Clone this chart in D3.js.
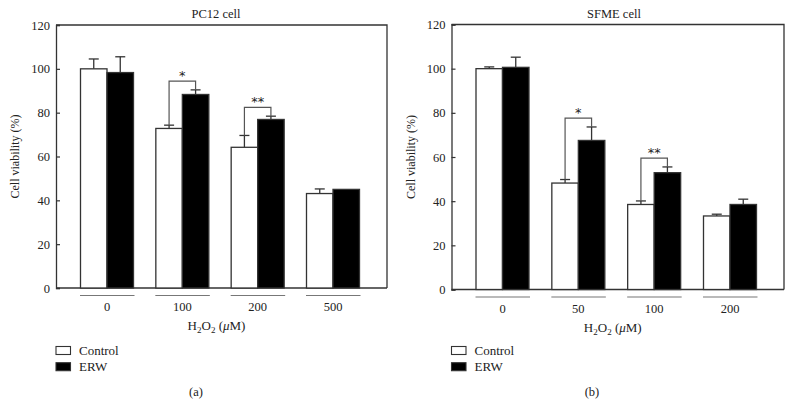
<!DOCTYPE html>
<html><head><meta charset="utf-8">
<script src="https://cdn.jsdelivr.net/npm/d3@7"></script>
<style>body{margin:0;background:#fff}svg{display:block}text{font-family:"Liberation Serif","DejaVu Serif",serif;fill:#222}</style>
</head><body><svg id="c" width="793" height="405"></svg>
<script>
const seriesNames = ["Control", "ERW"];
const yTicks = [0, 20, 40, 60, 80, 100, 120];

const pcCategories = ["0", "100", "200", "500"];
const pcControl = [100, 72.8, 64.2, 43.1];
const pcControlErr = [4.5, 1.5, 5.4, 2.1];
const pcERW = [98.3, 88.3, 76.9, 45];
const pcERWErr = [7.2, 2.1, 1.5, 0];
const pcSig = [null, "*", "**", null];

const sfCategories = ["0", "50", "100", "200"];
const sfControl = [100, 48.2, 38.5, 33.3];
const sfControlErr = [0.8, 1.6, 1.6, 0.8];
const sfERW = [100.6, 67.5, 52.9, 38.5];
const sfERWErr = [4.6, 6.1, 2.6, 2.4];
const sfSig = [null, "*", "**", null];

const svg = d3.select("#c");
const ink = "#333";

function panel(o) {
  const g = svg.append("g");
  const x = d3.scalePoint().domain(o.cats).range([o.left + 51, o.right - 54]);
  const y = d3.scaleLinear().domain([0, 120]).range([o.bottom, o.top]);
  const bw = 26.5;

  g.append("path").attr("d", `M${o.left},${o.top}H${o.right}V${o.bottom}`)
    .attr("fill", "none").attr("stroke", ink).attr("stroke-width", 1.3);

  const ya = g.append("g").attr("transform", `translate(${o.left},0)`)
    .call(d3.axisLeft(y).tickValues(yTicks).tickSize(-4).tickPadding(6));
  ya.select(".domain").attr("stroke", ink).attr("stroke-width", 1.3);
  ya.selectAll(".tick line").attr("stroke", ink).attr("stroke-width", 1.2);
  ya.selectAll("text").style("font-size", "12.5px").attr("fill", "#222").style("font-family", '"Liberation Serif",serif');

  g.append("line").attr("x1", o.left).attr("x2", o.right).attr("y1", o.bottom).attr("y2", o.bottom)
    .attr("stroke", ink).attr("stroke-width", 1.3);

  const data = o.cats.map((c, i) => ({c, i}));
  const rows = [];
  data.forEach(d => {
    rows.push({c: d.c, s: 0, v: o.ctrl[d.i], e: o.ctrlErr[d.i]});
    rows.push({c: d.c, s: 1, v: o.erw[d.i], e: o.erwErr[d.i]});
  });
  const bx = r => x(r.c) + (r.s === 0 ? -bw : 0);

  rows.filter(r => r.e > 0).forEach(r => {
    const cx = bx(r) + bw / 2;
    g.append("line").attr("x1", cx).attr("x2", cx).attr("y1", y(r.v)).attr("y2", y(r.v + r.e))
      .attr("stroke", ink).attr("stroke-width", 1.3);
    g.append("line").attr("x1", cx - 5).attr("x2", cx + 5).attr("y1", y(r.v + r.e)).attr("y2", y(r.v + r.e))
      .attr("stroke", ink).attr("stroke-width", 1.3);
  });

  g.selectAll("rect.bar").data(rows).join("rect").attr("class", "bar")
    .attr("x", bx).attr("width", bw)
    .attr("y", r => y(r.v)).attr("height", r => y(0) - y(r.v))
    .attr("fill", r => r.s === 0 ? "#fff" : "#000")
    .attr("stroke", ink).attr("stroke-width", 1.3);

  data.forEach(d => {
    if (!o.sig[d.i]) return;
    const c0 = x(d.c) - bw / 2, c1 = x(d.c) + bw / 2;
    const t0 = o.ctrl[d.i] + o.ctrlErr[d.i], t1 = o.erw[d.i] + o.erwErr[d.i];
    const top = Math.max(t0, t1) + 4;
    g.append("path").attr("d", `M${c0},${y(t0)}V${y(top)}H${c1}V${y(t1)}`)
      .attr("fill", "none").attr("stroke", "#555").attr("stroke-width", 1.2);
    g.append("text").attr("x", x(d.c)).attr("y", y(top) - 1).attr("text-anchor", "middle")
      .style("font-size", "13px").style("font-family", '"DejaVu Sans",sans-serif').attr("fill", "#333")
      .text(o.sig[d.i]);
  });

  data.forEach(d => {
    g.append("line").attr("x1", x(d.c) - bw - 0.5).attr("x2", x(d.c) + bw + 1)
      .attr("y1", o.bottom + 7.5).attr("y2", o.bottom + 7.5).attr("stroke", "#777").attr("stroke-width", 1.2);
    g.append("text").attr("x", x(d.c)).attr("y", o.bottom + 23).attr("text-anchor", "middle")
      .style("font-size", "12.5px").text(d.c);
  });

  const mid = (o.left + o.right) / 2;
  const xt = g.append("text").attr("x", mid - 5).attr("y", o.bottom + 42).attr("text-anchor", "middle").style("font-size", "13px");
  xt.append("tspan").text("H");
  xt.append("tspan").text("2").attr("dy", 3).style("font-size", "9px");
  xt.append("tspan").text("O").attr("dy", -3);
  xt.append("tspan").text("2").attr("dy", 3).style("font-size", "9px");
  xt.append("tspan").text(" (").attr("dy", -3);
  xt.append("tspan").text("μ").style("font-style", "italic");
  xt.append("tspan").text("M)");

  g.append("text").attr("x", o.titleX).attr("y", 18).attr("text-anchor", "middle").style("font-size", "12.5px").text(o.title);

  g.append("text").attr("transform", `translate(${o.left - 37},${(o.top + o.bottom) / 2}) rotate(-90)`)
    .attr("text-anchor", "middle").style("font-size", "12px").text("Cell viability (%)");

  seriesNames.forEach((n, i) => {
    const ly = 346.5 + i * 16.2;
    g.append("rect").attr("x", o.left).attr("y", ly).attr("width", 14.5).attr("height", 8)
      .attr("fill", i === 0 ? "#fff" : "#000").attr("stroke", ink).attr("stroke-width", 1.1);
    g.append("text").attr("x", o.left + 23).attr("y", ly + 8).style("font-size", "13px").text(n);
  });

  g.append("text").attr("x", o.subX).attr("y", 396).attr("text-anchor", "middle").style("font-size", "12.5px").text(o.sub);
}

panel({left: 56, right: 387, top: 25, bottom: 288, cats: pcCategories, ctrl: pcControl, ctrlErr: pcControlErr,
  erw: pcERW, erwErr: pcERWErr, sig: pcSig, title: "PC12 cell", titleX: 216, sub: "(a)", subX: 196});
panel({left: 451.5, right: 784, top: 24.5, bottom: 289.5, cats: sfCategories, ctrl: sfControl, ctrlErr: sfControlErr,
  erw: sfERW, erwErr: sfERWErr, sig: sfSig, title: "SFME cell", titleX: 614, sub: "(b)", subX: 592});
</script></body></html>
